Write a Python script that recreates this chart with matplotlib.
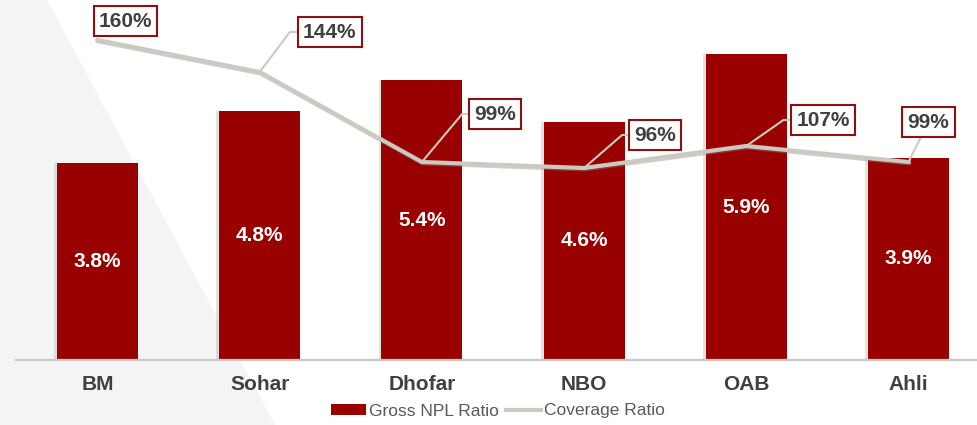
import matplotlib.pyplot as plt
import matplotlib.patheffects as pe
from matplotlib.patches import Polygon

plt.rcParams['font.family'] = ['Liberation Sans', 'DejaVu Sans']

# data
banks = ['BM', 'Sohar', 'Dhofar', 'NBO', 'OAB', 'Ahli']
npl_ratio = [3.8, 4.8, 5.4, 4.6, 5.9, 3.9]
coverage = [160, 144, 99, 96, 107, 99]

# callout offsets in pixels (dx, dy) and leader angle
callout_offsets = [(28, 19), (70, 40), (73, 48), (71, 33), (77, 26), (20, 40)]
leader_angles = [None, 53, 50, 41, 35, 'straight']

red = '#990000'
line_grey = '#CBCAC0'
text_grey = '#404040'

W, H = 977, 425
fig = plt.figure(figsize=(W / 100, H / 100), dpi=100)

# light grey diagonal background shape on the left
bg = Polygon([(0, 1), (47 / W, 1), (275 / W, 0), (0, 0)], closed=True,
             transform=fig.transFigure, facecolor='#F4F4F4', edgecolor='none', zorder=-5)
fig.patches.append(bg)

left = 16.4 / W
width = 973.2 / W
bottom = 65 / H
height = 360 / H
ax = fig.add_axes([left, bottom, width, height])
ax.set_facecolor('none')

x = list(range(len(banks)))
bars = ax.bar(x, npl_ratio, width=0.5, color=red, zorder=2, label='Gross NPL Ratio')
for b in bars:
    b.set_path_effects([pe.SimplePatchShadow(offset=(-2, 0), shadow_rgbFace='#777777', alpha=0.2),
                        pe.Normal()])
ax.bar_label(bars, labels=[f'{v:.1f}%' for v in npl_ratio], label_type='center',
             color='white', fontsize=15, fontweight='bold')

ax.set_xlim(-0.5, len(banks) - 0.5)
ax.set_ylim(0, 360 / 51.8)
ax.set_yticks([])
ax.set_xticks(x)
ax.set_xticklabels(banks, fontsize=15, fontweight='bold', color=text_grey)
ax.tick_params(axis='x', length=0, pad=11)
for s in ['top', 'left', 'right']:
    ax.spines[s].set_visible(False)
ax.spines['bottom'].set_color('#C8C8C8')
ax.spines['bottom'].set_linewidth(1.6)

ax2 = ax.twinx()
ax2.set_ylim(0, 180)
ax2.set_yticks([])
for s in ax2.spines.values():
    s.set_visible(False)
line, = ax2.plot(x, coverage, color=line_grey, lw=3, solid_joinstyle='miter',
                 label='Coverage Ratio', zorder=3)
line.set_path_effects([pe.SimpleLineShadow(offset=(0.5, -1), shadow_color='#888888', alpha=0.4),
                       pe.Normal()])

for i, v in enumerate(coverage):
    dx, dy = callout_offsets[i]
    ang = leader_angles[i]
    if ang is None:
        arrow = None
    elif ang == 'straight':
        arrow = dict(arrowstyle='-', color=line_grey, lw=1.5, shrinkA=0, shrinkB=0)
    else:
        arrow = dict(arrowstyle='-', color=line_grey, lw=1.5, shrinkA=0, shrinkB=0,
                     connectionstyle=f'angle,angleA=0,angleB={ang},rad=0')
    ax2.annotate(f'{v}%', xy=(i, v), xytext=(dx, dy), textcoords='offset pixels',
                 ha='center', va='center', fontsize=15, fontweight='bold', color=text_grey,
                 bbox=dict(boxstyle='square,pad=0.25', fc='white', ec='#8B1010', lw=1.5),
                 arrowprops=arrow, zorder=5)

leg = fig.legend(handles=[bars, line], labels=['Gross NPL Ratio', 'Coverage Ratio'],
                 loc='center', bbox_to_anchor=(498 / W, 1 - 411 / H), ncol=2, frameon=False,
                 fontsize=12.5, labelcolor='#595959', handlelength=2.0, handleheight=0.6,
                 handletextpad=0.2, columnspacing=0.4, borderpad=0)
for h in leg.legend_handles:
    h.set_path_effects([])

fig.savefig('out.png', dpi=100)
